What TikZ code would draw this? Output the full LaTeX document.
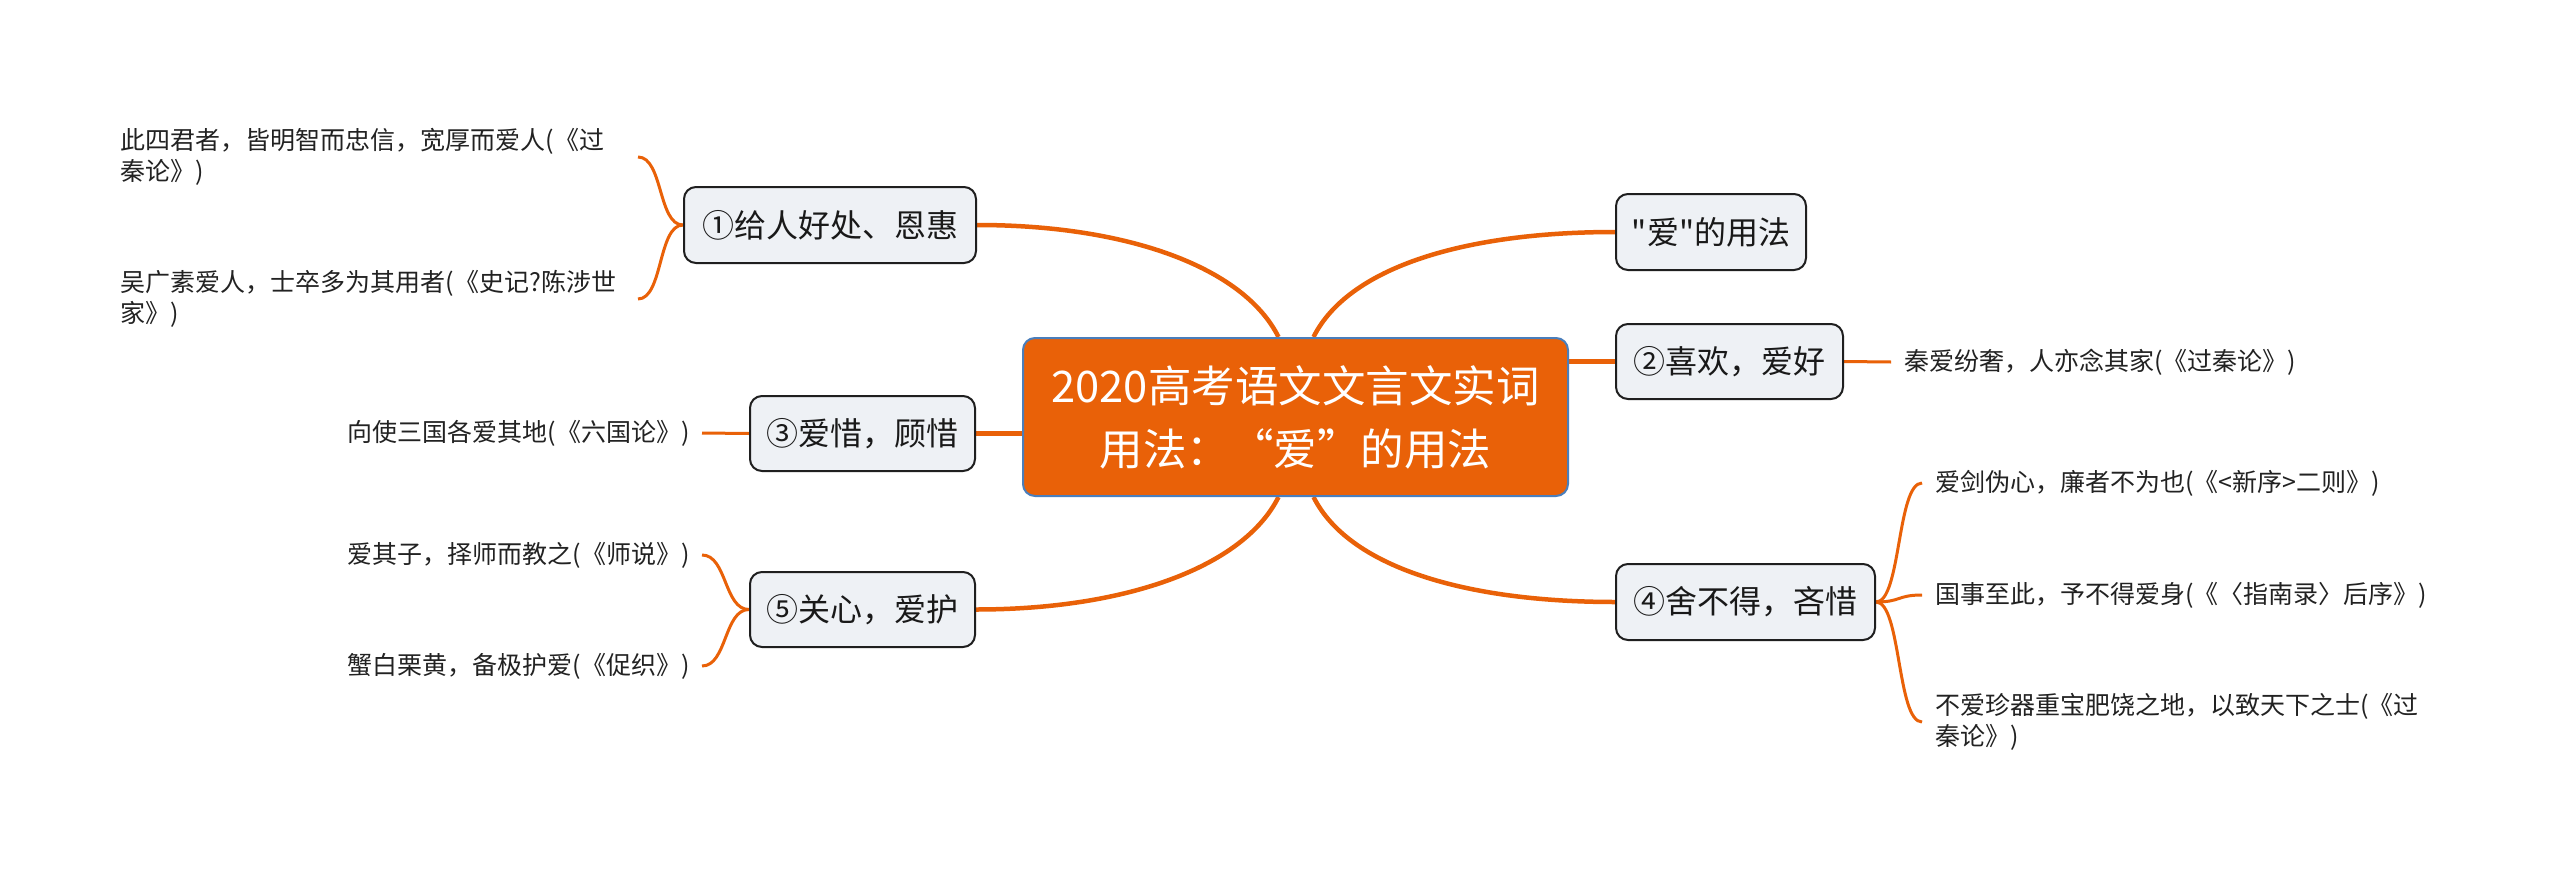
\documentclass[tikz,border=0pt]{standalone}
\usepackage{fontspec}
\setmainfont{Noto Sans CJK SC}
\newfontfamily\cjkplain{Noto Sans CJK SC}
\usetikzlibrary{backgrounds}
\definecolor{org}{RGB}{233,97,8}
\definecolor{nodefill}{RGB}{238,241,245}
\definecolor{cborder}{RGB}{74,126,187}
\definecolor{leaftext}{RGB}{34,34,34}
\begin{document}
\begin{tikzpicture}[x=1pt,y=-1pt,
  topic/.style={draw=black!88, line width=2pt, fill=nodefill, rounded corners=12pt,
    font=\fontsize{32}{38}\selectfont, inner sep=0pt, text=black!90, align=center},
  root/.style={fill=org, draw=cborder, line width=2pt, rounded corners=12pt, text=white,
    font=\fontsize{43.5}{63}\selectfont, align=center, inner sep=0pt},
  leaf/.style={inner sep=0pt, font=\fontsize{25}{31}\selectfont, align=left, text=leaftext},
  mainlink/.style={draw=org, line width=4.5pt},
  sublink/.style={draw=org, line width=3pt}]
\useasboundingbox (0,0) rectangle (2560,875);
\begin{scope}[on background layer]
  \fill[white] (0,0) rectangle (2560,875);
\end{scope}

% root
\node[root, minimum width=545pt, minimum height=158pt] (root) at (1295.5,417)
  {2020高考语文文言文实词\\用法：“爱”的用法};

% topics
\node[topic, minimum width=292pt, minimum height=76pt] (n1) at (830,225) {①给人好处、恩惠};
\node[topic, minimum width=190pt, minimum height=76pt] (use) at (1711,232) {\cjkplain "爱"的用法};
\node[topic, minimum width=227pt, minimum height=75pt] (n2) at (1729.5,361.5) {②喜欢，爱好};
\node[topic, minimum width=225pt, minimum height=75pt] (n3) at (862.5,433.5) {③爱惜，顾惜};
\node[topic, minimum width=259pt, minimum height=76pt] (n4) at (1745.5,602) {④舍不得，吝惜};
\node[topic, minimum width=225pt, minimum height=75pt] (n5) at (862.5,609.5) {⑤关心，爱护};

% leaves
\node[leaf, anchor=east, text width=504pt] (l1a) at (625,157) {此四君者，皆明智而忠信，宽厚而爱人(《过\\秦论》)};
\node[leaf, anchor=east, text width=504pt] (l1b) at (625,299) {吴广素爱人，士卒多为其用者(《史记?陈涉世\\家》)};
\node[leaf, anchor=east, text width=341pt] (l3) at (689,433) {向使三国各爱其地(《六国论》)};
\node[leaf, anchor=east, text width=341pt] (l5a) at (689,555) {爱其子，择师而教之(《师说》)};
\node[leaf, anchor=east, text width=341pt] (l5b) at (689,666) {蟹白栗黄，备极护爱(《促织》)};
\node[leaf, anchor=west] (l2) at (1904,362) {秦爱纷奢，人亦念其家(《过秦论》)};
\node[leaf, anchor=west] (l4a) at (1935,483) {爱剑伪心，廉者不为也(《<新序>二则》)};
\node[leaf, anchor=west] (l4b) at (1935,595) {国事至此，予不得爱身(《〈指南录〉后序》)};
\node[leaf, anchor=west] (l4c) at (1935,722) {不爱珍器重宝肥饶之地，以致天下之士(《过\\秦论》)};

\begin{scope}[on background layer]
  % main links
  \draw[mainlink] ([xshift=-17pt]root.north) .. controls +(-35,-70) and +(150,0) .. (n1.east);
  \draw[mainlink] ([xshift=18pt]root.north) .. controls +(35,-70) and +(-150,0) .. (use.west);
  \draw[mainlink] (root.east |- n2.west) -- (n2.west);
  \draw[mainlink] (n3.east) -- (root.west |- n3.east);
  \draw[mainlink] ([xshift=-17pt]root.south) .. controls +(-35,70) and +(150,0) .. (n5.east);
  \draw[mainlink] ([xshift=18pt]root.south) .. controls +(35,70) and +(-150,0) .. (n4.west);
  % sub links
  \draw[sublink] (n1.west) .. controls +(-25,0) and +(25,0) .. ([xshift=13pt]l1a.east);
  \draw[sublink] (n1.west) .. controls +(-25,0) and +(25,0) .. ([xshift=13pt]l1b.east);
  \draw[sublink] (n3.west) -- ([xshift=13pt]l3.east);
  \draw[sublink] (n5.west) .. controls +(-25,0) and +(25,0) .. ([xshift=13pt]l5a.east);
  \draw[sublink] (n5.west) .. controls +(-25,0) and +(25,0) .. ([xshift=13pt]l5b.east);
  \draw[sublink] (n2.east) -- ([xshift=-13pt]l2.west);
  \draw[sublink] (n4.east) .. controls +(25,0) and +(-25,0) .. ([xshift=-13pt]l4a.west);
  \draw[sublink] (n4.east) .. controls +(25,0) and +(-25,0) .. ([xshift=-13pt]l4b.west);
  \draw[sublink] (n4.east) .. controls +(25,0) and +(-25,0) .. ([xshift=-13pt]l4c.west);
\end{scope}
\end{tikzpicture}
\end{document}
